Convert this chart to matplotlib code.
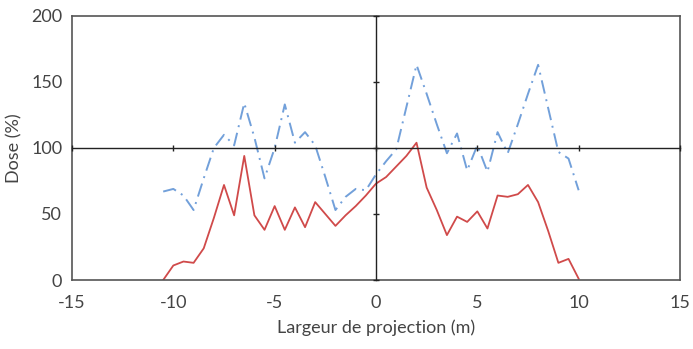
import matplotlib
matplotlib.use("Agg")
import matplotlib.pyplot as plt

plt.rcParams['font.family'] = ['Lato', 'DejaVu Sans']

# largeur de projection (m)
largeur = [-10.5, -10.0, -9.5, -9.0, -8.5, -8.0, -7.5, -7.0, -6.5, -6.0, -5.5,
           -5.0, -4.5, -4.0, -3.5, -3.0, -2.5, -2.0, -1.5, -1.0, -0.5,
           0.0, 0.5, 1.0, 1.5, 2.0, 2.5, 3.0, 3.5, 4.0, 4.5,
           5.0, 5.5, 6.0, 6.5, 7.0, 7.5, 8.0, 8.5, 9.0, 9.5, 10.0]

# dose (%) - courbe rouge (trait plein)
dose_rouge = [0, 11, 14, 13, 24, 47, 72, 49, 94, 49, 38,
              56, 38, 55, 40, 59, 50, 41, 49, 56, 64,
              73, 78, 86, 94, 104, 70, 53, 34, 48, 44,
              52, 39, 64, 63, 65, 72, 59, 37, 13, 16, 1]

# dose (%) - courbe bleue (tirets)
dose_bleue = [67, 69, 64, 53, 77, 100, 110, 102, 134, 108, 77,
              100, 133, 104, 112, 102, 78, 53, 63, 69, 68,
              80, 90, 99, 131, 163, 141, 118, 96, 111, 83,
              102, 82, 112, 96, 118, 141, 163, 130, 97, 92, 68]

xticks = [-15, -10, -5, 0, 5, 10, 15]
yticks = [0, 50, 100, 150, 200]

fig = plt.figure(figsize=(6.93, 3.49), dpi=100)
pos = [0.1039, 0.1977, 0.8773, 0.7565]
ax = fig.add_axes(pos)

ax.plot(largeur, dose_bleue, color='#72a0da', lw=1.4, dashes=[7, 3, 1, 3])
ax.plot(largeur, dose_rouge, color='#d04a4a', lw=1.3)

ax.set_xlim(-15, 15)
ax.set_ylim(0, 200)
ax.set_xticks(xticks)
ax.set_yticks(yticks)
ax.set_xticklabels([str(v) for v in xticks])
ax.tick_params(length=0, labelsize=13, colors='#444444')
ax.tick_params(axis='x', pad=11)
ax.tick_params(axis='y', pad=7)
for s in ax.spines.values():
    s.set_color('#555555')
    s.set_linewidth(1.2)
ax.set_xlabel('Largeur de projection (m)', fontsize=13, color='#444444', labelpad=6)
ax.set_ylabel('Dose (%)', fontsize=13, color='#444444', labelpad=6)

# axes croisés en x=0 et y=100
ax2 = fig.add_axes(pos, sharex=ax, sharey=ax)
ax2.patch.set_visible(False)
ax2.spines['top'].set_visible(False)
ax2.spines['right'].set_visible(False)
ax2.spines['left'].set_position(('data', 0))
ax2.spines['bottom'].set_position(('data', 100))
for k in ['left', 'bottom']:
    ax2.spines[k].set_color('#222222')
    ax2.spines[k].set_linewidth(1.0)
ax2.tick_params(direction='inout', length=4, width=1, colors='#222222',
                labelleft=False, labelbottom=False)

fig.savefig('out.png', dpi=100)
